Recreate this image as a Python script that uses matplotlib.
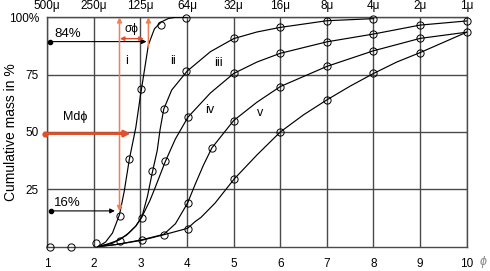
import matplotlib
matplotlib.use('Agg')
import matplotlib.pyplot as plt

plt.rcParams.update({
    'font.family': ['Liberation Sans', 'DejaVu Sans'],
    'font.size': 8.5,
})

# phi scale and matching grain sizes
phi_ticks = [1, 2, 3, 4, 5, 6, 7, 8, 9, 10]
size_labels = ['500μ', '250μ', '125μ', '64μ', '32μ', '16μ', '8μ', '4μ', '2μ', '1μ']
y_ticks = [25, 50, 75, 100]
y_labels = ['25', '50', '75', '100%']

# measured points (circles)
common_x = [1.05, 1.5, 2.04]
common_y = [0, 0, 1.5]
i_pts_x = [2.55, 2.75, 3.01, 3.45, 3.97]
i_pts_y = [13.5, 38.2, 68.6, 96.6, 99.8]
ii_pts_x = [2.55, 3.04, 3.24, 3.5, 3.98, 5.0, 6.0, 7.0, 8.0]
ii_pts_y = [2.6, 12.5, 32.8, 59.9, 76.5, 90.8, 95.6, 98.6, 99.3]
iii_pts_x = [3.53, 4.02, 5.0, 6.0, 7.0, 8.0, 9.0, 10.0]
iii_pts_y = [37.2, 56.5, 75.5, 84.3, 89.3, 92.7, 96.6, 98.4]
iv_pts_x = [3.04, 3.5, 4.01, 4.53, 5.0, 6.0, 7.0, 8.0, 9.0, 10.0]
iv_pts_y = [3.0, 5.3, 19.2, 43.0, 54.8, 69.8, 78.6, 85.4, 90.8, 93.5]
v_pts_x = [4.01, 5.01, 6.0, 7.0, 8.0, 9.0]
v_pts_y = [7.8, 29.3, 50.0, 64.0, 75.5, 84.6]

# hand-drawn fitted curves
i_line_x = [2.08, 2.25, 2.4, 2.55, 2.65, 2.76, 2.9, 3.0, 3.07, 3.17, 3.3, 3.45, 3.6, 3.75, 4.0]
i_line_y = [0, 2, 6, 14, 24, 38, 52, 66, 75, 88, 95, 98, 99.5, 100, 100]
ii_line_x = [2.08, 2.3, 2.55, 2.75, 2.9, 3.03, 3.15, 3.25, 3.36, 3.42, 3.5, 3.67, 4.0, 4.5, 5.0, 5.5, 6.0, 7.0, 8.0]
ii_line_y = [0, 1.2, 3, 6, 9, 13, 22, 32, 42, 51, 60, 68.3, 76.5, 85, 90.7, 93.6, 95.6, 98.5, 99.4]
iii_line_x = [2.08, 2.4, 2.7, 2.9, 3.03, 3.2, 3.31, 3.53, 3.75, 4.02, 4.5, 5.0, 5.5, 6.0, 7.0, 8.0, 9.0, 10.0]
iii_line_y = [0, 1.5, 5, 9, 13, 20, 25.5, 37, 47, 56.5, 67, 75.5, 80.5, 84.3, 89.3, 92.7, 96.6, 98.4]
iv_line_x = [2.08, 2.5, 3.03, 3.5, 3.75, 4.01, 4.17, 4.35, 4.53, 5.0, 5.5, 6.0, 7.0, 8.0, 9.0, 10.0]
iv_line_y = [0, 1, 3, 5.4, 10, 19, 27, 35.5, 43, 55, 63, 69.8, 78.6, 85.4, 90.8, 93.5]
v_line_x = [2.08, 2.5, 3.03, 3.5, 4.01, 4.17, 4.3, 4.6, 5.01, 5.5, 6.0, 6.5, 7.0, 7.5, 8.0, 8.5, 9.0, 10.0]
v_line_y = [0, 1, 2.8, 5.2, 8, 10.9, 12.8, 19, 29.5, 40, 50, 57.5, 64, 70, 75.5, 80.5, 84.6, 93.5]

red = '#e2502a'
red_light = '#ee8055'
grid_col = '#4a4a4a'

fig = plt.figure(figsize=(4.9, 2.71), dpi=100)
ax = fig.add_axes([0.0965, 0.0897, 0.8559, 0.8465])
ax.set_xlim(1, 10)
ax.set_ylim(0, 100)

for x in phi_ticks:
    ax.axvline(x, color=grid_col, lw=1.0, zorder=1)
for y in y_ticks:
    ax.axhline(y, color=grid_col, lw=1.0, zorder=1)
for s in ax.spines.values():
    s.set_color(grid_col)
    s.set_linewidth(1.0)

ax.set_xticks(phi_ticks)
ax.set_xticklabels([str(t) for t in phi_ticks])
ax.set_yticks(y_ticks)
ax.set_yticklabels(y_labels)
ax.tick_params(length=0, pad=6, labelsize=8.5)
ax.tick_params(axis='x', pad=8)
ax.set_ylabel('Cumulative mass in %', fontsize=10)
ax.yaxis.set_label_coords(-0.071, 0.5)

top = ax.secondary_xaxis('top')
top.set_xticks(phi_ticks)
top.set_xticklabels(size_labels)
top.tick_params(length=0, pad=4, labelsize=8.5)
for s in top.spines.values():
    s.set_visible(False)

ax.annotate('ϕ', xy=(10.35, 0), xycoords='data', xytext=(0, -11),
            textcoords='offset points', ha='center', va='center',
            fontsize=9, color='#888888', style='italic', annotation_clip=False)

# curves
for lx, ly in [(i_line_x, i_line_y), (ii_line_x, ii_line_y), (iii_line_x, iii_line_y),
               (iv_line_x, iv_line_y), (v_line_x, v_line_y)]:
    ax.plot(lx, ly, color='black', lw=0.85, zorder=3)

mk = dict(linestyle='none', marker='o', markersize=5.2, markerfacecolor='none',
          markeredgecolor='black', markeredgewidth=0.7, zorder=4, clip_on=False)
for px, py in [(common_x, common_y), (i_pts_x, i_pts_y), (ii_pts_x, ii_pts_y),
               (iii_pts_x, iii_pts_y), (iv_pts_x, iv_pts_y), (v_pts_x, v_pts_y)]:
    ax.plot(px, py, **mk)

# curve names
for name, x, y in [('i', 2.70, 81), ('ii', 3.70, 81), ('iii', 4.67, 80),
                   ('iv', 4.49, 59.6), ('v', 5.56, 58.2)]:
    ax.text(x, y, name, ha='center', va='center', fontsize=9)

# 84% and 16% markers
ax.plot([1.06], [89.4], 'o', color='black', markersize=3, zorder=5)
ax.annotate('', xy=(3.13, 89.4), xytext=(1.06, 89.4),
            arrowprops=dict(arrowstyle='-|>', color='black', lw=0.8,
                            mutation_scale=7, shrinkA=0, shrinkB=0), zorder=5)
ax.text(1.15, 92.5, '84%', ha='left', va='center', fontsize=9.5)

ax.plot([1.07], [15.6], 'o', color='black', markersize=3, zorder=5)
ax.annotate('', xy=(2.45, 15.6), xytext=(1.07, 15.6),
            arrowprops=dict(arrowstyle='-|>', color='black', lw=0.8,
                            mutation_scale=7, shrinkA=0, shrinkB=0), zorder=5)
ax.text(1.15, 19.0, '16%', ha='left', va='center', fontsize=9.5)

# median and sorting construction
ax.annotate('', xy=(2.55, 100), xytext=(2.55, 15.5),
            arrowprops=dict(arrowstyle='<|-|>', color=red_light, lw=1.1,
                            mutation_scale=7, shrinkA=0, shrinkB=0), zorder=6)
ax.annotate('', xy=(3.17, 100), xytext=(3.17, 87),
            arrowprops=dict(arrowstyle='-|>', color=red_light, lw=1.1,
                            mutation_scale=7, shrinkA=0, shrinkB=0), zorder=6)
ax.annotate('', xy=(3.07, 90.7), xytext=(2.56, 90.7),
            arrowprops=dict(arrowstyle='<|-|>', color=red, lw=1.0,
                            mutation_scale=6, shrinkA=0, shrinkB=0), zorder=6)
ax.text(2.81, 95.0, 'σϕ', ha='center', va='center', fontsize=8.5)

ax.plot([0.95], [49.3], 'o', color=red, markersize=3.5, zorder=7, clip_on=False)
ax.annotate('', xy=(2.79, 49.3), xytext=(0.95, 49.3),
            arrowprops=dict(arrowstyle='-|>', color=red, lw=2.0,
                            mutation_scale=9, shrinkA=0, shrinkB=0),
            zorder=7, annotation_clip=False)
ax.text(1.34, 56.5, 'Mdϕ', ha='left', va='center', fontsize=9)

fig.savefig('out.png', dpi=100)
